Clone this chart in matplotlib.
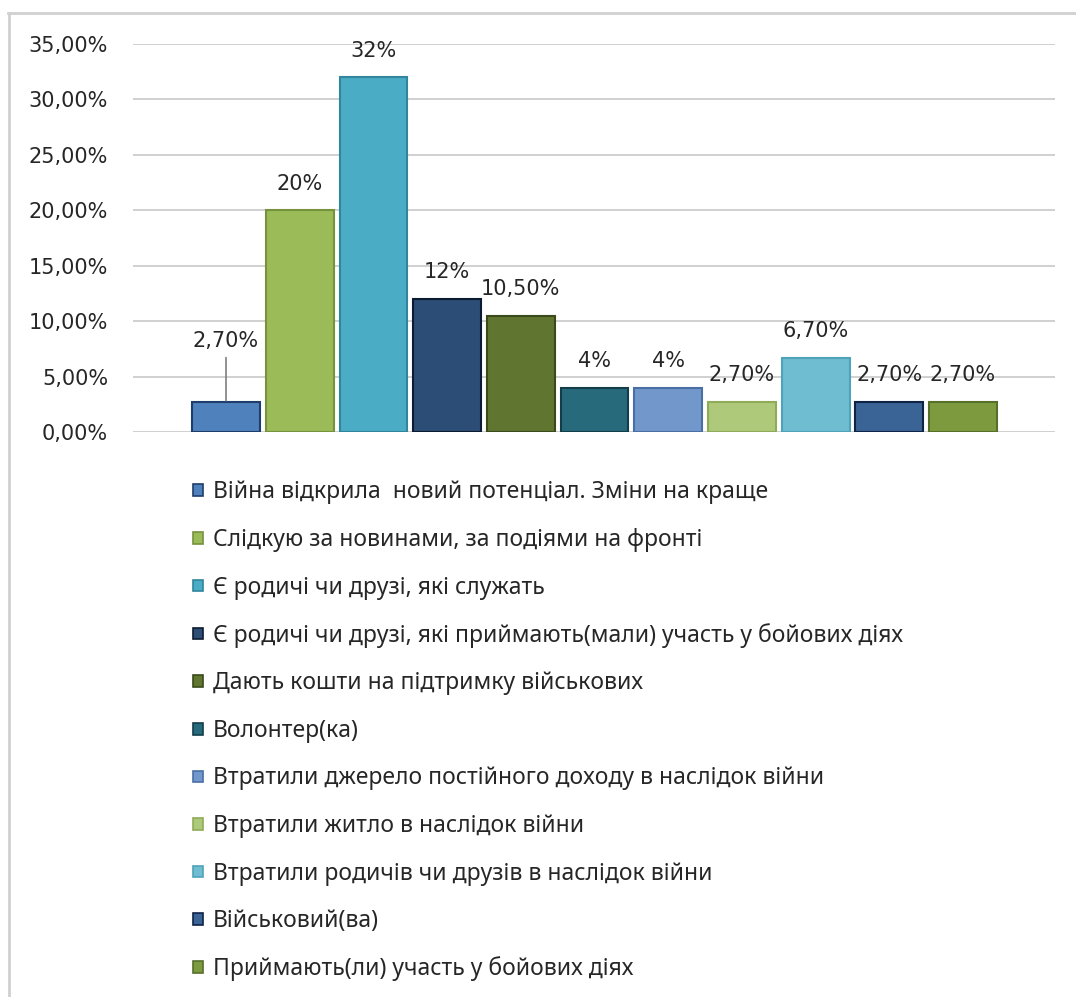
import matplotlib.pyplot as plt
import numpy as np
from matplotlib.patches import Patch
from matplotlib.lines import Line2D
from matplotlib.ticker import FuncFormatter

categories = [
    'Війна відкрила  новий потенціал. Зміни на краще',
    'Слідкую за новинами, за подіями на фронті',
    'Є родичі чи друзі, які служать',
    'Є родичі чи друзі, які приймають(мали) участь у бойових діях',
    'Дають кошти на підтримку військових',
    'Волонтер(ка)',
    'Втратили джерело постійного доходу в наслідок війни',
    'Втратили житло в наслідок війни',
    'Втратили родичів чи друзів в наслідок війни',
    'Військовий(ва)',
    'Приймають(ли) участь у бойових діях',
]
values = [2.7, 20, 32, 12, 10.5, 4, 4, 2.7, 6.7, 2.7, 2.7]
value_labels = ['2,70%', '20%', '32%', '12%', '10,50%', '4%', '4%',
                '2,70%', '6,70%', '2,70%', '2,70%']
y_ticks = [0, 5, 10, 15, 20, 25, 30, 35]

colors = ['#4f81bd', '#9bbb59', '#4bacc6', '#2c4d75', '#5f7530', '#276a7c',
          '#7297cb', '#afc97a', '#6fbdd1', '#3a6496', '#7d9b3e']
edges = ['#1f3d6b', '#76923c', '#31859c', '#0d1b30', '#3a4a1a', '#123e4a',
         '#4a6fa5', '#8eab57', '#4ea3b9', '#0f2346', '#56702a']

W, H = 1076, 997
fig = plt.figure(figsize=(W / 100, H / 100), dpi=100)
fig.patch.set_facecolor('white')

ax = fig.add_axes([133 / W, 1 - 432 / H, (1055 - 133) / W, (432 - 44) / H])
x = np.arange(len(values))
ax.set_xlim(-1.262, 11.248)
ax.set_ylim(0, 35)
ax.set_yticks(y_ticks)
ax.yaxis.set_major_formatter(FuncFormatter(lambda v, p: f'{v:.2f}%'.replace('.', ',')))
ax.tick_params(axis='y', length=0, pad=18, labelsize=15, labelcolor='#262626')
ax.set_xticks([])
for s in ax.spines.values():
    s.set_visible(False)
ax.grid(axis='y', color='#c8c8c8', linewidth=1.2)
ax.set_axisbelow(True)

bars = ax.bar(x, values, width=0.92, color=colors, edgecolor=edges, linewidth=1.5,
              zorder=3)

for i, (v, lab) in enumerate(zip(values, value_labels)):
    if i == 0:
        # first label is lifted up with a leader line
        ax.annotate(lab, (i, v), xytext=(0, 37), textcoords='offset points',
                    ha='center', va='bottom', fontsize=15, color='#262626')
        ax.annotate('', (i, v), xytext=(0, 32), textcoords='offset points',
                    arrowprops=dict(arrowstyle='-', color='#7f7f7f', lw=1.2,
                                    shrinkA=0, shrinkB=1))
    else:
        ax.annotate(lab, (i, v), xytext=(0, 12), textcoords='offset points',
                    ha='center', va='bottom', fontsize=15, color='#262626')

handles = [Patch(facecolor=c, edgecolor=e, linewidth=1.2) for c, e in zip(colors, edges)]
fig.legend(handles, categories, loc='upper left',
           bbox_to_anchor=(182 / W, 1 - 469 / H), frameon=False,
           prop={'family': 'Noto Sans', 'size': 16.5},
           handlelength=0.4, handleheight=0.4, handletextpad=0.45,
           labelspacing=1.027, borderpad=0, labelcolor='#262626')

# outer frame (top and left edges)
fig.add_artist(Line2D([8 / W, 1], [1 - 13 / H, 1 - 13 / H], transform=fig.transFigure,
                      color='#d0d0d0', linewidth=2))
fig.add_artist(Line2D([9 / W, 9 / W], [0, 1 - 13 / H], transform=fig.transFigure,
                      color='#d0d0d0', linewidth=2))

fig.savefig('out.png', dpi=100)
